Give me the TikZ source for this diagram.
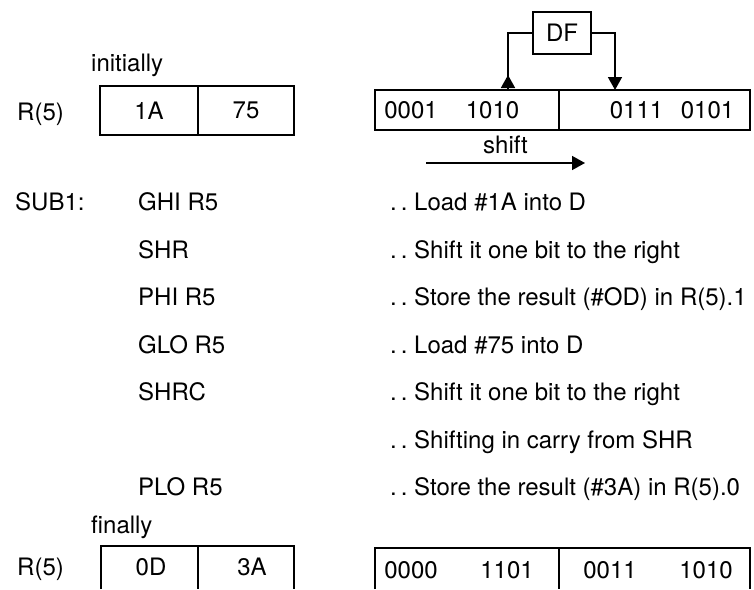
\documentclass[tikz,border=0pt]{standalone}
\usepackage{fontspec}
\setmainfont{TeX Gyre Heros}
\usepackage{tikz}
\usetikzlibrary{arrows.meta,positioning}

\newcommand{\dotlead}{.\,.\ }

\begin{document}
\begin{tikzpicture}[x=1pt,y=-1pt,
    txt/.style={inner sep=0pt, font=\fontsize{24}{28}\selectfont},
    lbl/.style={txt, anchor=base west},
    val/.style={txt, anchor=base},
    cell/.style={draw, line width=1.6pt, inner sep=0pt, txt},
    wire/.style={line width=1.6pt},
    tip/.style={-{Triangle[length=13pt,width=14pt]}}]
  \useasboundingbox (0,0) rectangle (754,589);

  % register before the shifts
  \node[lbl] (init) at (91,71) {initially};
  \node[lbl] (regA) at (17,120.5) {R(5)};
  \node[cell, minimum width=98pt, minimum height=49pt] (hiA) at (149,110.5) {1A};
  \node[cell, minimum width=96pt, minimum height=49pt] (loA) at (246,110.5) {75};

  % bit picture with DF
  \node[cell, minimum width=58pt, minimum height=42pt] (df) at (562,33) {DF};
  \node[cell, minimum width=184pt, minimum height=40pt] (hiB) at (467,110) {};
  \node[cell, minimum width=191pt, minimum height=40pt] (loB) at (654.5,110) {};
  \node[val] (hiBa) at (411,118.5) {0001};
  \node[val] (hiBb) at (492.5,118.5) {1010};
  \node[val] (loBa) at (636.5,118.5) {0111};
  \node[val] (loBb) at (707.5,118.5) {0101};

  \coordinate (outbit) at (508,90);
  \coordinate (inbit) at (615,90);
  \draw[wire] (outbit) |- (df.west);
  \draw[wire, tip] (outbit) -- ++(0,-15);
  \draw[wire, tip] (df.east) -| (inbit);

  \coordinate (shiftA) at (426,163);
  \coordinate (shiftB) at (585,163);
  \draw[wire, tip] (shiftA) -- node[txt, above=8pt] (shiftlbl) {shift} (shiftB);

  % program
  \node[lbl] (sub) at (15,210.5) {SUB1:};
  \node[lbl] (ghi) at (138,210.5) {GHI R5};
  \node[lbl] (shr) at (138,258) {SHR};
  \node[lbl] (phi) at (138,305.5) {PHI R5};
  \node[lbl] (glo) at (138,353) {GLO R5};
  \node[lbl] (shrc) at (138,400.5) {SHRC};
  \node[lbl] (plo) at (138,495.5) {PLO R5};

  \node[lbl] (cghi) at (390,210.5) {\dotlead Load \#1A into D};
  \node[lbl] (cshr) at (390,258) {\dotlead Shift it one bit to the right};
  \node[lbl] (cphi) at (390,305.5) {\dotlead Store the result (\#OD) in R(5).1};
  \node[lbl] (cglo) at (390,353) {\dotlead Load \#75 into D};
  \node[lbl] (cshrc) at (390,400.5) {\dotlead Shift it one bit to the right};
  \node[lbl] (ccarry) at (390,448) {\dotlead Shifting in carry from SHR};
  \node[lbl] (cplo) at (390,495.5) {\dotlead Store the result (\#3A) in R(5).0};

  % register after the shifts
  \node[lbl] (fin) at (91,533) {finally};
  \node[lbl] (regC) at (17,575.5) {R(5)};
  \draw[wire] (101,589) |- (294,546) -- (294,589);
  \draw[wire] (198,546) -- (198,589);
  \node[val] (hiC) at (151,575.5) {0D};
  \node[val] (loC) at (252,575.5) {3A};

  \draw[wire] (375,589) |- (750,548) -- (750,589);
  \draw[wire] (559,548) -- (559,589);
  \node[val] (hiDa) at (411,578.5) {0000};
  \node[val] (hiDb) at (507,578.5) {1101};
  \node[val] (loDa) at (610,578.5) {0011};
  \node[val] (loDb) at (706,578.5) {1010};
\end{tikzpicture}
\end{document}
